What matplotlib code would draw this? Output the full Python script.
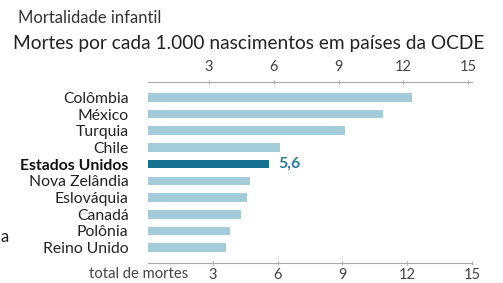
import matplotlib
matplotlib.use("Agg")
import matplotlib.pyplot as plt

countries = ["Colômbia", "México", "Turquia", "Chile", "Estados Unidos",
             "Nova Zelândia", "Eslováquia", "Canadá", "Polônia", "Reino Unido"]
values = [12.2, 10.9, 9.1, 6.1, 5.6, 4.7, 4.6, 4.3, 3.8, 3.6]
highlight = "Estados Unidos"
highlight_label = "5,6"
ticks = [3, 6, 9, 12, 15]
tick_labels = ["3", "6", "9", "12", "15"]

plt.rcParams['font.family'] = ['Lato', 'DejaVu Sans']

W, H = 503, 283
fig = plt.figure(figsize=(W / 100, H / 100), dpi=100)
ax = fig.add_axes([148 / W, 1 - 263 / H, 324 / W, (263 - 82) / H])

light = "#a3cbd9"
dark = "#15718f"
colors = [dark if c == highlight else light for c in countries]
ypos = list(range(len(countries)))
ax.barh(ypos, values, height=0.52, color=colors, zorder=2)

ax.set_xlim(0, 15)
ax.set_ylim(9.92, -0.92)
ax.set_yticks(ypos)
ax.set_yticklabels(countries, fontsize=11.3, color="#222222")
for lab in ax.get_yticklabels():
    if lab.get_text() == highlight:
        lab.set_fontweight("bold")
        lab.set_color("#111111")
ax.tick_params(axis='y', length=0, pad=14)

ax.set_xticks(ticks)
ax.set_xticklabels(tick_labels, fontsize=10.5, color="#444444")
ax.tick_params(axis='x', direction='inout', length=3, width=0.6, color="#999999", pad=2)

for s in ["left", "right", "top"]:
    ax.spines[s].set_visible(False)
ax.spines["bottom"].set_color("#aaaaaa")
ax.spines["bottom"].set_linewidth(0.8)

# top axis
ax2 = ax.twiny()
ax2.set_xlim(0.18, 15.18)
ax2.set_xticks(ticks)
ax2.set_xticklabels(tick_labels, fontsize=10.5, color="#444444")
ax2.tick_params(axis='x', direction='inout', length=3, width=0.6, color="#999999", pad=4)
for s in ["left", "right", "bottom"]:
    ax2.spines[s].set_visible(False)
ax2.spines["top"].set_color("#aaaaaa")
ax2.spines["top"].set_linewidth(0.8)

# value label
i = countries.index(highlight)
ax.text(values[i] + 0.45, i, highlight_label, va='center', ha='left',
        fontsize=11.5, fontweight='bold', color="#2a7b99")

# titles
fig.text(18 / W, 1 - 18 / H, "Mortalidade infantil", fontsize=12, color="#333333",
         ha='left', va='center')
fig.text(13 / W, 1 - 43 / H, "Mortes por cada 1.000 nascimentos em países da OCDE",
         fontsize=13.8, color="#222222", ha='left', va='center')

fig.text(188 / W, 1 - 274 / H, "total de mortes", fontsize=10.6, color="#444444",
         ha='right', va='center')

fig.text(0.5 / W, 1 - 237 / H, "a", fontsize=12, color="#222222", ha='left', va='center')

fig.savefig("out.png", dpi=100, facecolor="white")
